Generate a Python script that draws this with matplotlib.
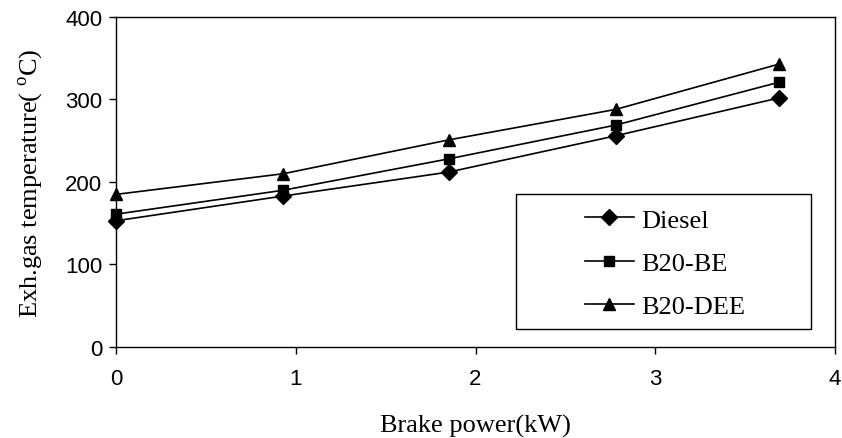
import matplotlib
matplotlib.use("Agg")
import matplotlib.pyplot as plt
from matplotlib.patches import Rectangle

plt.rcParams["mathtext.fontset"] = "custom"
plt.rcParams["mathtext.rm"] = "Liberation Serif"

# brake power (kW) and exhaust gas temperature (deg C)
power = [0, 0.93, 1.85, 2.78, 3.69]
diesel = [153, 183, 212, 256, 302]
b20_be = [161, 190, 228, 269, 321]
b20_dee = [185, 210, 251, 288, 343]

series = [
    ("Diesel", diesel, "D", 8),
    ("B20-BE", b20_be, "s", 7),
    ("B20-DEE", b20_dee, "^", 9),
]

fig = plt.figure(figsize=(8.42, 4.39), dpi=100)
ax = fig.add_axes([0.1378, 0.2073, 0.8539, 0.7517])

for name, vals, mk, ms in series:
    ax.plot(power, vals, color="black", lw=1.2, marker=mk, ms=ms,
            label=name, clip_on=False)

ax.set_xlim(0, 4)
ax.set_ylim(0, 400)
ax.set_xticks([0, 1, 2, 3, 4])
ax.set_yticks([0, 100, 200, 300, 400])
ax.tick_params(direction="out", length=5, width=1, labelsize=16,
               colors="black")
ax.tick_params(axis="x", pad=10)
ax.tick_params(axis="y", pad=5)
for lab in ax.get_xticklabels() + ax.get_yticklabels():
    lab.set_family("Liberation Sans")
for sp in ax.spines.values():
    sp.set_linewidth(1)

ax.set_xlabel("Brake power(kW)", family="Liberation Serif", fontsize=19,
              labelpad=18)
ax.set_ylabel(r"Exh.gas temperature( $^{\mathrm{o}}$C)",
              family="Liberation Serif", fontsize=19, labelpad=14)

# legend frame drawn separately, entries placed inside it
ax.add_patch(Rectangle((0.556, 0.055), 0.411, 0.409, transform=ax.transAxes,
                       fill=False, ec="black", lw=1, zorder=3))
ax.legend(loc="upper left", bbox_to_anchor=(0.652, 0.421), frameon=False,
          borderpad=0, borderaxespad=0, handlelength=1.85,
          handletextpad=0.3, labelspacing=0.75,
          prop={"family": "Liberation Serif", "size": 19})

fig.savefig("out.png", dpi=100)
